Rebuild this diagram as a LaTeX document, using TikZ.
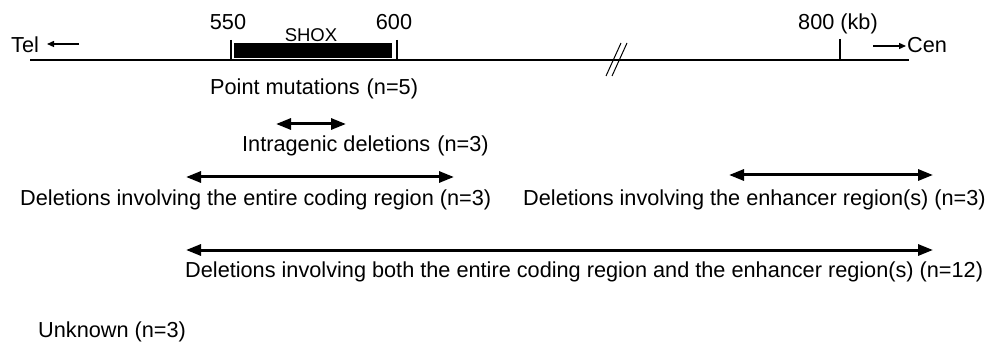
\documentclass[tikz,border=0pt]{standalone}
\usepackage{fontspec}
\setmainfont{Liberation Sans}
\usetikzlibrary{arrows.meta}
\begin{document}
\begin{tikzpicture}[x=1pt,y=-1pt,
  lbl/.style={inner sep=0pt,font=\fontsize{21.7}{26}\selectfont},
  small/.style={inner sep=0pt,font=\fontsize{18.5}{22}\selectfont},
  axis/.style={line width=2pt},
  tick/.style={line width=1.5pt},
  dirarrow/.style={line width=1.3pt,-{Triangle[length=7pt,width=6pt]}},
  span/.style={line width=3pt,{Triangle[length=15pt,width=11pt]}-{Triangle[length=15pt,width=11pt]}}]
\useasboundingbox (0,0) rectangle (991,342);
% axis
\coordinate (L) at (30,60);
\coordinate (R) at (909,60);
\draw[axis] (L) -- (R);
% ticks
\coordinate (t550a) at (231,40); \coordinate (t550b) at (231,60);
\coordinate (t600a) at (397,40); \coordinate (t600b) at (397,60);
\coordinate (t800a) at (840,39); \coordinate (t800b) at (840,60);
\draw[tick] (t550a) -- (t550b);
\draw[tick] (t600a) -- (t600b);
\draw[tick] (t800a) -- (t800b);
\node[lbl,anchor=base] (n550) at (228,30) {550};
\node[lbl,anchor=base] (n600) at (394,30) {600};
\node[lbl,anchor=base] (n800) at (838,30) {800 (kb)};
% SHOX box
\fill (234,43) rectangle (392,58);
\node[small,anchor=base] (shox) at (311,42) {SHOX};
% break marks
\coordinate (b1a) at (621,43); \coordinate (b1b) at (606,76);
\coordinate (b2a) at (627,43); \coordinate (b2b) at (612,76);
\draw[line width=1pt] (b1a) -- (b1b);
\draw[line width=1pt] (b2a) -- (b2b);
% Tel / Cen
\node[lbl,anchor=base west] (tel) at (11,53) {Tel};
\coordinate (telA) at (79,44); \coordinate (telB) at (47,44);
\draw[dirarrow] (telA) -- (telB);
\node[lbl,anchor=base west] (cen) at (907,53) {Cen};
\coordinate (cenA) at (873,46); \coordinate (cenB) at (906,46);
\draw[dirarrow] (cenA) -- (cenB);
% labels
\node[lbl,anchor=base west] (pm) at (210,95) {Point mutations\hspace{7pt}(n=5)};
\coordinate (ig1) at (276,124); \coordinate (ig2) at (346,124);
\draw[span] (ig1) -- (ig2);
\node[lbl,anchor=base west] (ig) at (242,152) {Intragenic deletions\hspace{7pt}(n=3)};
\coordinate (cd1) at (186,177); \coordinate (cd2) at (454,177);
\draw[span] (cd1) -- (cd2);
\node[lbl,anchor=base west] (cd) at (20,205) {Deletions involving the entire coding region (n=3)};
\coordinate (en1) at (729,175); \coordinate (en2) at (933,175);
\draw[span] (en1) -- (en2);
\node[lbl,anchor=base west] (en) at (523,205) {Deletions involving the enhancer region(s) (n=3)};
\coordinate (bo1) at (186,250); \coordinate (bo2) at (933,250);
\draw[span] (bo1) -- (bo2);
\node[lbl,anchor=base west] (bo) at (185,277) {Deletions involving both the entire coding region and the enhancer region(s) (n=12)};
\node[lbl,anchor=base west] (un) at (38,337) {Unknown (n=3)};
\end{tikzpicture}
\end{document}
